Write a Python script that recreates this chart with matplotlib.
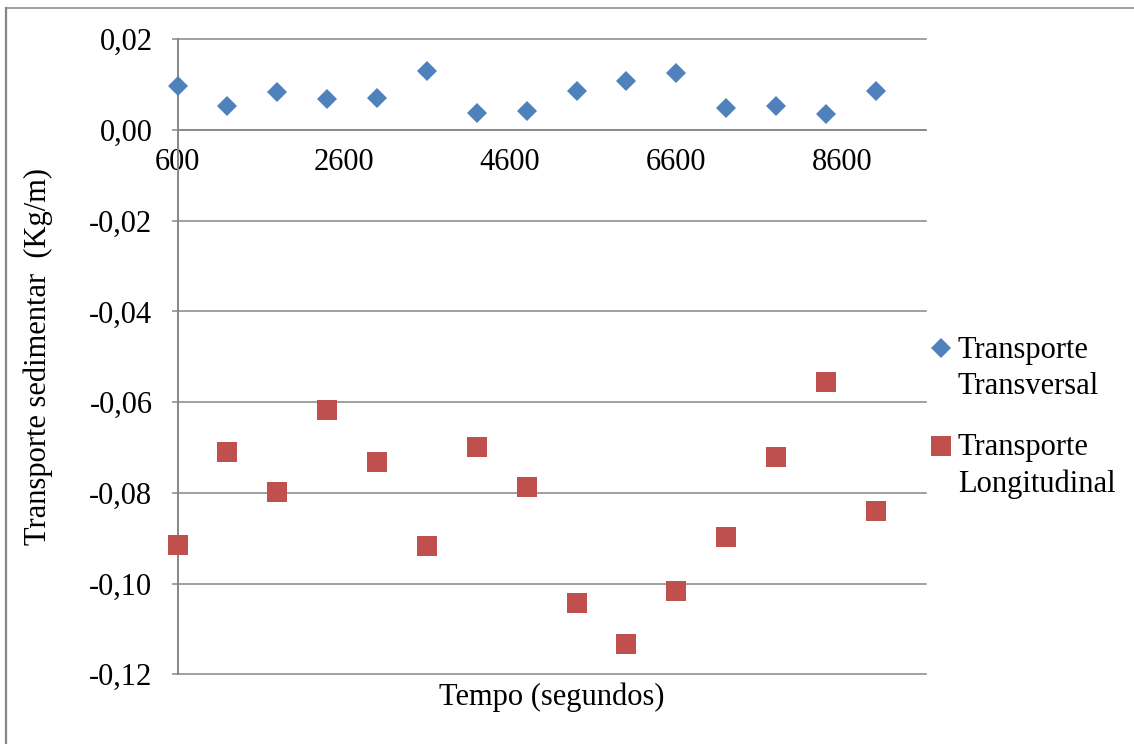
import numpy as np
import matplotlib
matplotlib.use("Agg")
import matplotlib.pyplot as plt
from matplotlib.ticker import FuncFormatter, FixedLocator
from matplotlib.lines import Line2D
from matplotlib.legend_handler import HandlerLine2D

# Time of each sample (s)
tempo = [600, 1200, 1800, 2400, 3000, 3600, 4200, 4800,
         5400, 6000, 6600, 7200, 7800, 8400, 9000]

# Sediment transport (kg/m)
transversal = [0.0098, 0.0052, 0.0084, 0.0068, 0.0071, 0.0129, 0.0037, 0.0041,
               0.0085, 0.0107, 0.0126, 0.0048, 0.0053, 0.0035, 0.0085]
longitudinal = [-0.0915, -0.0711, -0.0799, -0.0617, -0.0732, -0.0918, -0.0700, -0.0787,
                -0.1042, -0.1134, -0.1016, -0.0898, -0.0720, -0.0556, -0.0841]

series_labels = ["Transporte\nTransversal", "Transporte\nLongitudinal"]
x_ticks = [600, 2600, 4600, 6600, 8600]
y_ticks = [-0.12, -0.10, -0.08, -0.06, -0.04, -0.02, 0.00, 0.02]

BLUE = "#4F81BD"
RED = "#C0504D"
GRID = "#868686"

plt.rcParams["font.family"] = ["Liberation Serif", "DejaVu Serif"]
FS = 22


class FirstLineHandler(HandlerLine2D):
    """Legend handler that puts the marker beside the first line of a two-line label."""

    def create_artists(self, legend, orig_handle, xdescent, ydescent,
                       width, height, fontsize, trans):
        artists = super().create_artists(legend, orig_handle, xdescent, ydescent,
                                          width, height, fontsize, trans)
        for a in artists:
            a.set_ydata(np.asarray(a.get_ydata(), dtype=float) + 0.68 * fontsize)
        return artists


W, H = 1134, 744
fig = plt.figure(figsize=(W / 100, H / 100), dpi=100)
left, right = 177.5 / W, 925.7 / W
top, bottom = 1 - 39.3 / H, 1 - 674.2 / H
ax = fig.add_axes([left, bottom, right - left, top - bottom])

ax.set_xlim(600, 9600)
ax.set_ylim(-0.12, 0.02)

ax.plot(tempo, transversal, linestyle="none", marker="D", markersize=10.5,
        color=BLUE, markeredgewidth=0, label=series_labels[0], zorder=4, clip_on=False)
ax.plot(tempo, longitudinal, linestyle="none", marker="s", markersize=14.6,
        color=RED, markeredgewidth=0, label=series_labels[1], zorder=4, clip_on=False)

# horizontal gridlines at every major y tick
ax.yaxis.set_major_locator(FixedLocator(y_ticks))
for yv in y_ticks:
    ax.axhline(yv, color=GRID, linewidth=1.1, zorder=1, clip_on=False)

ax.xaxis.set_major_locator(FixedLocator(x_ticks))
ax.xaxis.set_major_formatter(FuncFormatter(lambda v, p: f"{int(round(v))}"))


def fmt_y(v, p):
    s = f"{v:.2f}"
    if s == "-0.00":
        s = "0.00"
    return s.replace(".", ",")


ax.yaxis.set_major_formatter(FuncFormatter(fmt_y))

for side in ("top", "right"):
    ax.spines[side].set_visible(False)
ax.spines["bottom"].set_position(("data", 0))
ax.spines["bottom"].set_color(GRID)
ax.spines["bottom"].set_linewidth(1.1)
ax.spines["left"].set_color(GRID)
ax.spines["left"].set_linewidth(1.4)

ax.tick_params(axis="x", length=0, pad=13, labelsize=FS, colors="black")
ax.tick_params(axis="y", length=4, width=1.1, color=GRID, pad=14, labelsize=FS,
               labelcolor="black", direction="out")

ax.set_ylabel("Transporte sedimentar  (Kg/m)", fontsize=FS)
ax.yaxis.set_label_coords(-0.166, 0.5)
ax.set_xlabel("Tempo (segundos)", fontsize=FS)
ax.xaxis.set_label_coords(0.5, -0.036)
ax.xaxis.label.set_verticalalignment("center")

leg = ax.legend(loc="upper left", bbox_to_anchor=(932 / W, 1 - 336 / H),
                bbox_transform=fig.transFigure, frameon=False, fontsize=FS,
                handlelength=0.6, handletextpad=0.25, labelspacing=1.05,
                borderpad=0, borderaxespad=0,
                handler_map={Line2D: FirstLineHandler()})
for t in leg.get_texts():
    t.set_linespacing(1.32)

# chart-area border
fig.add_artist(Line2D([6 / W, 6 / W], [0, 1 - 8 / H], transform=fig.transFigure,
                      color=GRID, linewidth=1.6))
fig.add_artist(Line2D([6 / W, 1], [1 - 8 / H, 1 - 8 / H], transform=fig.transFigure,
                      color=GRID, linewidth=1.1))

fig.savefig("out.png", dpi=100)
